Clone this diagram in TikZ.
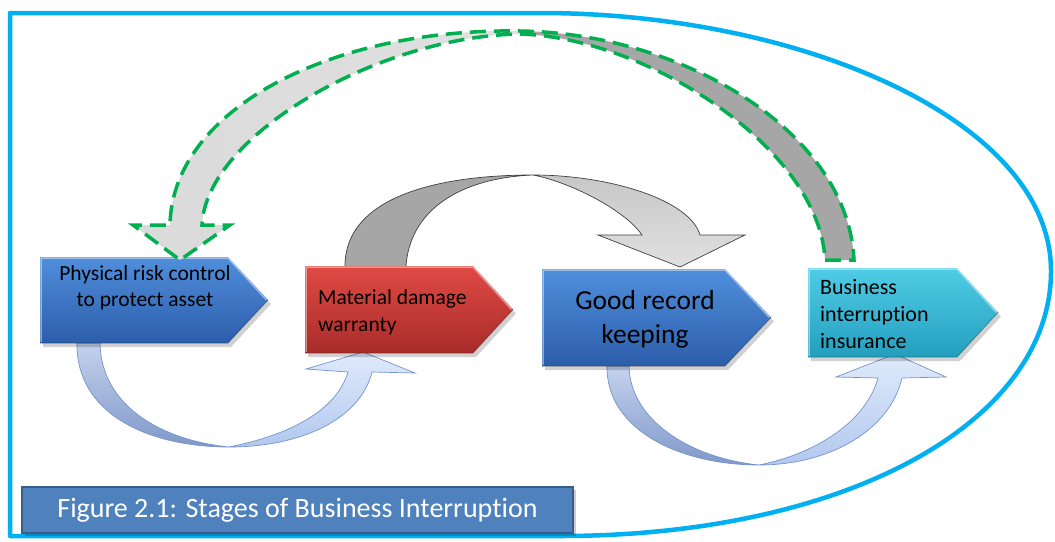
\documentclass[tikz,border=0pt]{standalone}
\usepackage{fontspec}
\setmainfont{Carlito}[Ligatures={NoCommon}]
\definecolor{frameblue}{RGB}{0,176,240}
\definecolor{dgreen}{RGB}{0,176,80}
\definecolor{bluetop}{RGB}{80,142,220}
\definecolor{bluebot}{RGB}{44,94,170}
\definecolor{redtop}{RGB}{224,74,68}
\definecolor{redbot}{RGB}{168,44,42}
\definecolor{cyantop}{RGB}{80,204,230}
\definecolor{cyanbot}{RGB}{36,158,190}
\definecolor{capfill}{RGB}{79,129,189}
\definecolor{capline}{RGB}{56,93,138}
\definecolor{ldtop}{RGB}{196,210,236}
\definecolor{ldbot}{RGB}{128,152,202}
\definecolor{lltop}{RGB}{224,234,252}
\definecolor{llbot}{RGB}{178,200,238}
\definecolor{lline}{RGB}{118,148,204}
\definecolor{gdark}{RGB}{166,166,166}
\definecolor{glight}{RGB}{218,218,218}
\newcommand\stageshape[7]{%
  \fill[black,opacity=0.18] (#1+3,#2+4) -- (#3+3,#2+4) -- (#4+3,{(#2+#5)/2+4}) -- (#3+3,#5+4) -- (#1+3,#5+4) -- cycle;
  \shade[top color=#6, bottom color=#7] (#1,#2) -- (#3,#2) -- (#4,{(#2+#5)/2}) -- (#3,#5) -- (#1,#5) -- cycle;
  \draw[white, opacity=0.45, line width=1.5pt] (#1+1,#5-1) -- (#1+1,#2+1) -- (#3,#2+1) -- (#4-1.5,{(#2+#5)/2});
  \draw[black, opacity=0.25, line width=1pt] (#4,{(#2+#5)/2}) -- (#3,#5) -- (#1,#5);
}
\begin{document}
\begin{tikzpicture}[x=1pt,y=-1pt,
  lbl/.style={inner sep=0pt, text=black},
  lowdark/.style={top color=ldtop, bottom color=ldbot, draw=lline, line width=0.7pt},
  lowlight/.style={top color=lltop, bottom color=llbot, draw=lline, line width=0.7pt},
  grayline/.style={draw=black!75, line width=0.7pt},
  greendash/.style={draw=dgreen, line width=3.5pt, dash pattern=on 16pt off 8pt}]
\useasboundingbox (0,0) rectangle (1055,541);
\fill[white] (0,0) rectangle (1055,541);

% outer frame
\draw[frameblue, line width=4.5pt, line join=round]
  (10,13) -- (540,13) .. controls (800,13) and (1050,120) .. (1051,270)
  .. controls (1052,420) and (850,536) .. (560,536) -- (10,536) -- cycle;

% lower curved arrows
\shade[lowdark] (77,343) .. controls (76,415) and (150,447) .. (229,447)
  .. controls (160,440) and (101,405) .. (100,343) -- cycle;
\shade[lowlight] (229,447) .. controls (300,447) and (360,420) .. (372,372)
  -- (415,373) -- (363,352) -- (306,369) -- (348,372)
  .. controls (335,415) and (280,437) .. (229,447) -- cycle;

\shade[lowdark] (607,366) .. controls (606,430) and (680,465) .. (759,465)
  .. controls (690,458) and (630,420) .. (629,366) -- cycle;
\shade[lowlight] (759,465) .. controls (830,465) and (890,430) .. (902,378)
  -- (946,377) -- (895,354) -- (836,377) -- (878,378)
  .. controls (865,425) and (810,455) .. (759,465) -- cycle;

% gray curved arrow
\fill[gdark] (345,266) .. controls (345,200) and (430,175) .. (533,175)
  .. controls (460,178) and (410,210) .. (406,266) -- cycle;
\draw[grayline] (345,266) .. controls (345,200) and (430,175) .. (533,175)
  .. controls (460,178) and (410,210) .. (406,266);
\shade[top color=black!22, bottom color=black!12, grayline]
  (533,175) .. controls (610,175) and (690,200) .. (700,235)
  -- (745,235) -- (680,267) -- (598,235) -- (642,235)
  .. controls (625,210) and (570,182) .. (533,175) -- cycle;

% stage shapes
\stageshape{40}{257}{228}{268}{343}{bluetop}{bluebot}
\stageshape{305}{266}{473}{513}{353}{redtop}{redbot}
\stageshape{542}{269}{725}{771}{366}{bluetop}{bluebot}
\stageshape{808}{268}{957}{998}{357}{cyantop}{cyanbot}

% green dashed feedback arrow
\fill[gdark] (520,31) .. controls (680,33) and (848,130) .. (854,260) -- (825,260)
  .. controls (820,150) and (650,38) .. (520,34) -- cycle;
\shade[left color=glight, right color=black!12]
  (520,31) .. controls (330,28) and (172,110) .. (170,225) -- (133,225) -- (180,260)
  -- (230,225) -- (202,225) .. controls (206,135) and (380,36) .. (520,34) -- cycle;
\draw[greendash] (825,260) -- (854,260) .. controls (848,130) and (680,33) .. (520,31)
  .. controls (330,28) and (172,110) .. (170,225) -- (133,225) -- (180,260)
  -- (230,225) -- (202,225) .. controls (206,135) and (380,36) .. (520,34)
  .. controls (650,38) and (820,150) .. (825,260);

% texts
\node[lbl, align=center, font=\fontsize{21.5}{26}\selectfont] (t1) at (145,288)
  {Physical risk control\\to protect asset};
\node[lbl, align=left, anchor=west, font=\fontsize{21.5}{27}\selectfont] (t2) at (318,312)
  {Material damage\\warranty};
\node[lbl, align=center, font=\fontsize{27.5}{34}\selectfont] (t3) at (645,319)
  {Good record\\keeping};
\node[lbl, align=left, anchor=west, font=\fontsize{22}{27}\selectfont] (t4) at (820,314)
  {Business\\interruption\\insurance};

% caption
\fill[black, opacity=0.2] (25,490) rectangle (576,536);
\node[draw=capline, fill=capfill, line width=1.2pt, minimum width=551pt,
  minimum height=46pt, inner sep=0pt, text=white,
  font=\fontsize{28}{32}\selectfont] (cap) at (297.5,510)
  {Figure 2.1: Stages of Business Interruption};
\end{tikzpicture}
\end{document}
